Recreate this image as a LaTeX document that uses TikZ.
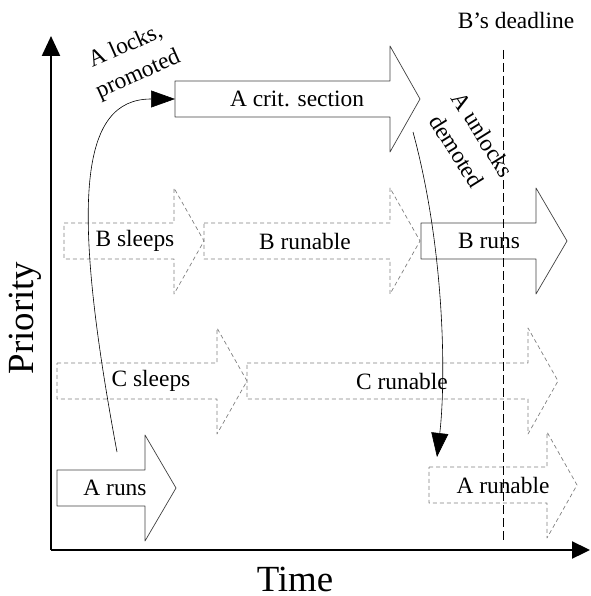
\documentclass[tikz,border=0pt]{standalone}
\usepackage{fontspec}
\setmainfont{Liberation Serif}
\usetikzlibrary{arrows.meta}
\begin{document}
\begin{tikzpicture}[x=1bp,y=-1bp,line join=round,font=\fontsize{23.5}{28}\selectfont,
	run/.style={draw=black!75,line width=.7bp},
	wait/.style={draw=black!50,line width=.7bp,dash pattern=on 4bp off 3bp},
	link/.style={line width=.6bp,-{Triangle[length=24bp,width=17bp]}},
	axlabel/.style={font=\fontsize{37}{40}\selectfont}]
	\useasboundingbox (0,0) rectangle (591,596);
	\def\hb{18} \def\hh{53}
	% axes
	\coordinate (O) at (51,550);
	\coordinate (ytip) at (51,36);
	\coordinate (xtip) at (590,550);
	\draw[line width=2.3bp,-{Triangle[length=20bp,width=18bp]}] (O)--(ytip);
	\draw[line width=2.3bp,-{Triangle[length=18bp,width=17bp]}] (O)--(xtip);
	\node[axlabel,rotate=90] (prio) at (25,318) {Priority};
	\node[axlabel,anchor=base] (time) at (295,591) {Time};
	% phases
	\foreach \nm/\xa/\xb/\xc/\yc/\tx/\sty/\txt in {
		crit/175/390/420/99/297/run/A crit. section,
		bslp/64/174/204/241/135/wait/B sleeps,
		brbl/204/390/420/241/305/wait/B runable,
		brun/421/536/567/241/489/run/B runs,
		cslp/57/217/247/381/151/wait/C sleeps,
		crbl/247/528/558/381/402/wait/C runable,
		arun/57/145/176/488/115/run/A runs,
		arbl/429/547/577/485/503/wait/A runable}{
		\draw[\sty] (\xa,\yc-\hb) -- (\xb,\yc-\hb) -- (\xb,\yc-\hh) -- (\xc,\yc)
			-- (\xb,\yc+\hh) -- (\xb,\yc+\hb) -- (\xa,\yc+\hb) -- cycle;
		\node (\nm) at (\tx,\yc) {\txt};
		\coordinate (\nm-tail) at (\xa,\yc);
	}
	% deadline
	\coordinate (dtop) at (503,50);
	\coordinate (dbot) at (503,542);
	\draw[line width=.6bp,dash pattern=on 9bp off 4bp] (dtop)--(dbot);
	\node (dl) at (516,20) {B's deadline};
	% lock / unlock
	\coordinate (lock) at (117,452);
	\coordinate (unlock) at (413,132);
	\coordinate (demote) at (437,457);
	\draw[link] (lock) .. controls (70,200) and (80,99) .. (crit-tail);
	\draw[link] (unlock) .. controls (445,250) and (446,380) .. (demote);
	\node[rotate=24,align=center] (lk) at (132,61) {A locks,\\[3bp]promoted};
	\node[rotate=-58,align=center] (ul) at (470,143) {A unlocks\\[3bp]demoted};
\end{tikzpicture}
\end{document}
